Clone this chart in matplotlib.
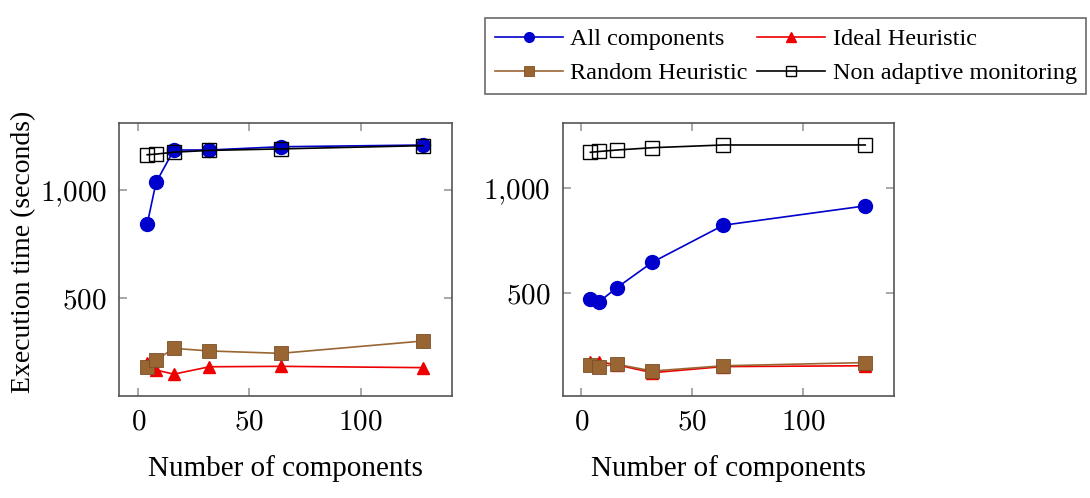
import numpy as np
import matplotlib
matplotlib.use("Agg")
import matplotlib.pyplot as plt
from matplotlib.ticker import FuncFormatter

plt.rcParams['font.family'] = ['Liberation Serif', 'DejaVu Serif']
plt.rcParams['mathtext.fontset'] = 'cm'

components = [4, 8, 16, 32, 64, 128]

# left panel
left_all = [842, 1035, 1185, 1185, 1200, 1208]
left_ideal = [200, 169, 150, 184, 186, 180]
left_random = [184, 215, 269, 257, 246, 303]
left_nonadapt = [1163, 1166, 1175, 1183, 1190, 1205]

# right panel
right_all = [471, 460, 527, 648, 824, 916]
right_ideal = [174, 174, 159, 122, 151, 155]
right_random = [159, 151, 162, 130, 155, 170]
right_nonadapt = [1171, 1175, 1182, 1193, 1206, 1206]

blue = '#0000cc'
red = '#ee0000'
brown = '#996633'

fig = plt.figure(figsize=(10.9, 4.98), dpi=100)
ax1 = fig.add_axes([0.1095, 0.2048, 0.305, 0.5488])
ax2 = fig.add_axes([0.5162, 0.2048, 0.304, 0.5488])


def fmt(v, pos):
    if v >= 1000:
        return r'$%d{,}%03d$' % (v // 1000, v % 1000)
    return r'$%d$' % v


def draw(ax, all_c, ideal, rand, nonad, ylim):
    h1, = ax.plot(components, all_c, color=blue, marker='o', ms=10, lw=1.2,
                  label='All components')
    h2, = ax.plot(components, ideal, color=red, marker='^', ms=9, lw=1.2,
                  label='Ideal Heuristic')
    h3, = ax.plot(components, rand, color=brown, marker='s', ms=10, lw=1.2,
                  markeredgecolor='#7a5028', mew=0.6, label='Random Heuristic')
    h4, = ax.plot(components, nonad, color='black', marker='s', ms=10, lw=1.2,
                  mfc='none', mew=1.0, label='Non adaptive monitoring')
    ax.set_xlim(-8.5, 141)
    ax.set_ylim(*ylim)
    ax.set_xticks([0, 50, 100])
    ax.set_yticks([500, 1000])
    ax.xaxis.set_major_formatter(FuncFormatter(lambda v, p: r'$%d$' % v))
    ax.yaxis.set_major_formatter(FuncFormatter(fmt))
    ax.tick_params(direction='in', top=True, right=True, length=6,
                   width=1.2, color='#999999', labelsize=21)
    ax.tick_params(axis='x', pad=10)
    ax.tick_params(axis='y', pad=9)
    for s in ax.spines.values():
        s.set_color('#555555')
        s.set_linewidth(1.2)
    ax.set_xlabel('Number of components', fontsize=21, labelpad=14)
    return [h1, h2, h3, h4]


handles = draw(ax1, left_all, left_ideal, left_random, left_nonadapt, (49, 1311))
draw(ax2, right_all, right_ideal, right_random, right_nonadapt, (11, 1312))
fig.text(0.022, 0.495, 'Execution time (seconds)', rotation=90,
         ha='center', va='center', fontsize=20)

order = [handles[0], handles[2], handles[1], handles[3]]
leg = fig.legend(order, [h.get_label() for h in order], ncol=2,
                 loc='upper right', bbox_to_anchor=(0.999, 0.968),
                 fontsize=17.5, frameon=True, fancybox=False,
                 handlelength=2.8, handletextpad=0.3, columnspacing=0.4,
                 labelspacing=0.5, borderpad=0.4, borderaxespad=0.1)
leg.get_frame().set_edgecolor('#444444')
leg.get_frame().set_linewidth(1.2)
for lh in leg.legend_handles:
    lh.set_markersize(7)

fig.savefig('out.png', dpi=100)
